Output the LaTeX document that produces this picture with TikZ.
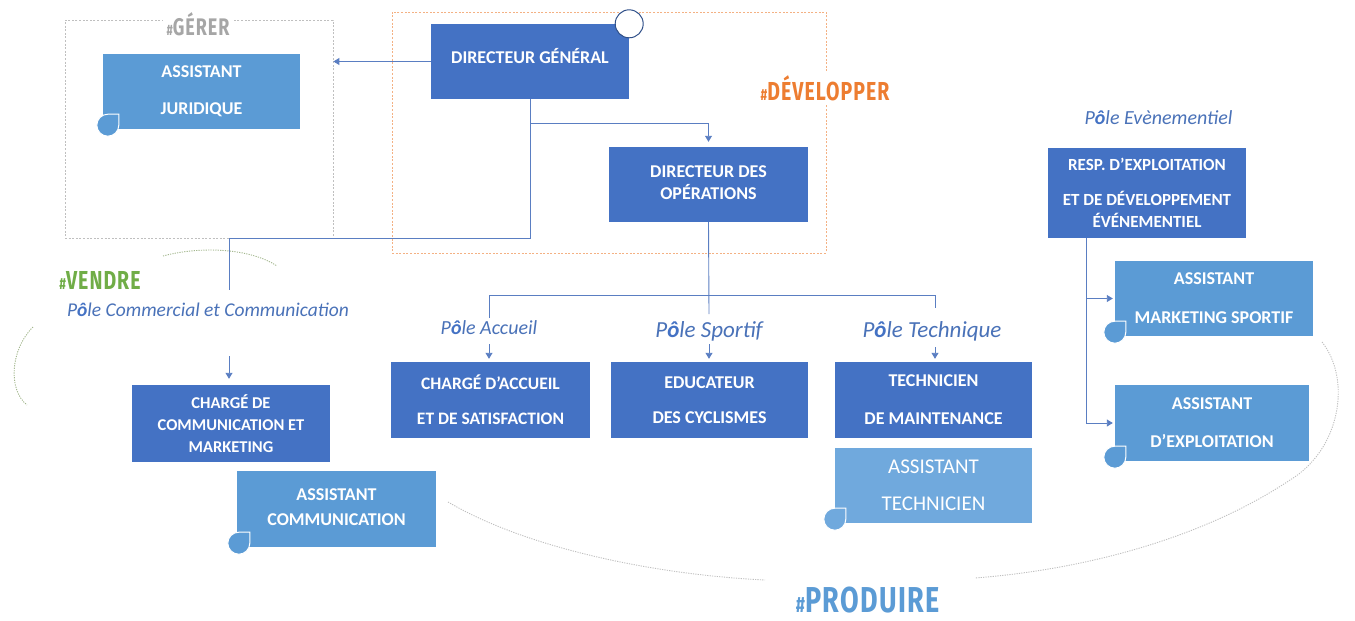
\documentclass[tikz,border=0pt]{standalone}
\usepackage{fontspec}
\setmainfont{Carlito}
\newfontfamily\tagfont[FakeStretch=0.75,LetterSpace=4]{Fira Sans}
\usetikzlibrary{arrows.meta,calc}
\definecolor{dkblue}{HTML}{4472C4}
\definecolor{ltblue}{HTML}{5B9BD5}
\definecolor{paleblue}{HTML}{70A9DD}
\definecolor{linecol}{HTML}{5A7EC2}
\definecolor{polecol}{HTML}{4A72B8}
\definecolor{orangetag}{HTML}{ED7D31}
\definecolor{orangeline}{HTML}{F4B183}
\definecolor{greentag}{HTML}{70AD47}
\definecolor{greenarc}{HTML}{A3B78E}
\definecolor{greytag}{HTML}{A6A6A6}
\definecolor{greyline}{HTML}{BFBFBF}
\definecolor{bluetag}{HTML}{5B9BD5}
\newcommand\pol{P{\bfseries\color{dkblue}ô}le}
\newcommand\twolines[3][0pt]{\begin{tabular}{@{}c@{}}#2\\[#1]#3\end{tabular}}
\tikzset{
  box/.style={rectangle, inner sep=0pt, text=white, align=center,
    font=\bfseries\fontsize{18}{22}\selectfont},
  dkbox/.style={box, fill=dkblue},
  ltbox/.style={box, fill=ltblue},
  zone/.style={rectangle, inner sep=0pt, line width=0.8pt, dash pattern=on 2pt off 1.6pt},
  conn/.style={draw=linecol, line width=0.9pt},
  arr/.style={conn, -{Triangle[width=7pt,length=6pt]}},
  pole/.style={text=polecol, font=\itshape\fontsize{19.5}{22}\selectfont},
  tag/.style={inner sep=4pt, fill=white},
  arc/.style={line width=0.9pt, dash pattern=on 1.2pt off 1.2pt},
  drop/.pic={\filldraw[fill=#1, draw=white, line width=1pt]
    (11pt,0pt) arc[start angle=0, end angle=-270, radius=11pt] -- (11pt,11pt) -- cycle;},
}
\begin{document}
\begin{tikzpicture}[x=1pt, y=-1pt]
\useasboundingbox (0,0) rectangle (1355,621);

% zones
\node[zone, draw=greyline, minimum width=268, minimum height=218] (gerer) at (199,129) {};
\node[zone, draw=orangeline, minimum width=434, minimum height=241] (dev) at (609,132.5) {};

% decorative arcs
\draw[arc, draw=greyline] (1322,342) .. controls (1352,380) and (1340,450) .. (1290,480)
  .. controls (1200,540) and (1080,570) .. (975,578);
\draw[arc, draw=greyline] (448,502) .. controls (530,550) and (660,575) .. (765,580);
\draw[arc, draw=greenarc] (163,256) .. controls (200,246) and (250,248) .. (277,266);
\draw[arc, draw=greenarc] (33,327) .. controls (10,350) and (8,390) .. (27,405);

% tags
\node[tag, text=greytag, font=\tagfont\bfseries\fontsize{24}{24}\selectfont] (tgerer) at (198,24)
  {{\fontsize{15}{15}\selectfont\#}GÉRER};
\node[tag, text=orangetag, font=\tagfont\bfseries\fontsize{26}{26}\selectfont] (tdev) at (825,88)
  {{\fontsize{16}{16}\selectfont\#}DÉVELOPPER};
\node[tag, text=greentag, font=\tagfont\bfseries\fontsize{26}{26}\selectfont] (tvendre) at (100,280)
  {{\fontsize{16}{16}\selectfont\#}VENDRE};
\node[tag, inner sep=1pt, anchor=base, text=bluetag, font=\tagfont\bfseries\fontsize{36}{36}\selectfont] (tprod) at (868,612)
  {{\fontsize{22}{22}\selectfont\#}PRODUIRE};

% boxes
\node[ltbox, minimum width=197, minimum height=75] (aj) at (201.5,91.5) {ASSISTANT\\[15pt]JURIDIQUE};
\node[dkbox, minimum width=198, minimum height=75] (dg) at (530,61.5) {\raisebox{12pt}{DIRECTEUR GÉNÉRAL}};
\node[dkbox, minimum width=199, minimum height=75] (do) at (708.5,184.5) {\raisebox{10pt}{\twolines{DIRECTEUR DES}{OPÉRATIONS}}};
\node[dkbox, minimum width=199, minimum height=76, font=\bfseries\fontsize{17.5}{22}\selectfont] (ca) at (490.5,400) {CHARGÉ D’ACCUEIL\\[13pt]ET DE SATISFACTION};
\node[dkbox, minimum width=197, minimum height=76] (ed) at (709.5,400) {EDUCATEUR\\[13pt]DES CYCLISMES};
\node[dkbox, minimum width=197, minimum height=76] (tm) at (933.5,400) {TECHNICIEN\\[16pt]DE MAINTENANCE};
\node[box, fill=paleblue, minimum width=197, minimum height=75, font=\fontsize{21}{22}\selectfont] (at) at (933.5,485.5) {ASSISTANT\\[15pt]TECHNICIEN};
\node[dkbox, minimum width=198, minimum height=77, font=\bfseries\fontsize{16.5}{22}\selectfont] (cc) at (231,423.5) {CHARGÉ DE\\COMMUNICATION ET\\MARKETING};
\node[ltbox, minimum width=199, minimum height=76] (ac) at (336.5,509) {\raisebox{12pt}{\twolines[3pt]{ASSISTANT}{COMMUNICATION}}};
\node[dkbox, minimum width=198, minimum height=90, font=\bfseries\fontsize{17}{22}\selectfont] (resp) at (1147,193) {RESP. D’EXPLOITATION\\[13pt]ET DE DÉVELOPPEMENT\\ÉVÉNEMENTIEL};
\node[ltbox, minimum width=198, minimum height=75] (ams) at (1214,298.5) {ASSISTANT\\[17pt]MARKETING SPORTIF};
\node[ltbox, minimum width=194, minimum height=76] (ae) at (1212,423) {ASSISTANT\\[16pt]D’EXPLOITATION};

% corner marks
\fill[white] (dg.north east) circle[radius=14pt];
\draw[draw=dkblue!70!black, line width=1pt] (dg.north east) circle[radius=14pt];
\pic at ($(aj.south west)+(5,-4)$) {drop=ltblue};
\pic at ($(at.south west)+(0,-4)$) {drop=paleblue};
\pic at ($(ac.south west)+(2,-4)$) {drop=ltblue};
\pic at ($(ams.south west)+(0,-4)$) {drop=ltblue};
\pic at ($(ae.south west)+(0,-4)$) {drop=ltblue};

% pole labels
\node[pole] (pcom) at (208,310) {\pol{} Commercial et Communication};
\node[pole, font=\itshape\fontsize{20}{22}\selectfont] (pacc) at (489,328) {\pol{} Accueil};
\node[pole, font=\itshape\fontsize{23}{24}\selectfont] (psport) at (709,331) {\pol{} Sportif};
\node[pole, font=\itshape\fontsize{23}{24}\selectfont] (ptech) at (932,331) {\pol{} Technique};
\node[pole, font=\itshape\fontsize{20}{22}\selectfont] (pev) at (1158.5,118) {\pol{} Evènementiel};

% connectors
\coordinate (j1) at (530,123);
\coordinate (j2) at (530,238);
\coordinate (vtop) at (229,290);
\coordinate (varr) at (229,356);
\draw[arr] (dg.west) -- (gerer.east |- dg.west);
\draw[arr, shorten >=5pt] (dg.south) -- (j1) -| (do.north);
\draw[conn] (dg.south) -- (j2) -| (vtop);
\draw[arr, shorten >=6pt] (varr) -- (varr |- cc.north);

\coordinate (bar) at (709,295);
\coordinate (bl) at (489,318);
\coordinate (bm) at (709,314);
\coordinate (br) at (935,308);
\draw[conn] (do.south) -- (bm);
\draw[conn] (bl) -- (bl |- bar) -- (br |- bar) -- (br);
\coordinate (aacc) at (489,344);
\coordinate (aspo) at (709,344);
\coordinate (atec) at (935,347);
\draw[arr, shorten >=3pt] (aacc) -- (aacc |- ca.north);
\draw[arr, shorten >=3pt] (aspo) -- (aspo |- ed.north);
\draw[arr, shorten >=3pt] (atec) -- (atec |- tm.north);

\coordinate (rs) at (1086,238);
\draw[arr, shorten >=2pt] (rs) |- (ams.west);
\draw[arr, shorten >=2pt] (rs) |- (ae.west);
\end{tikzpicture}
\end{document}
